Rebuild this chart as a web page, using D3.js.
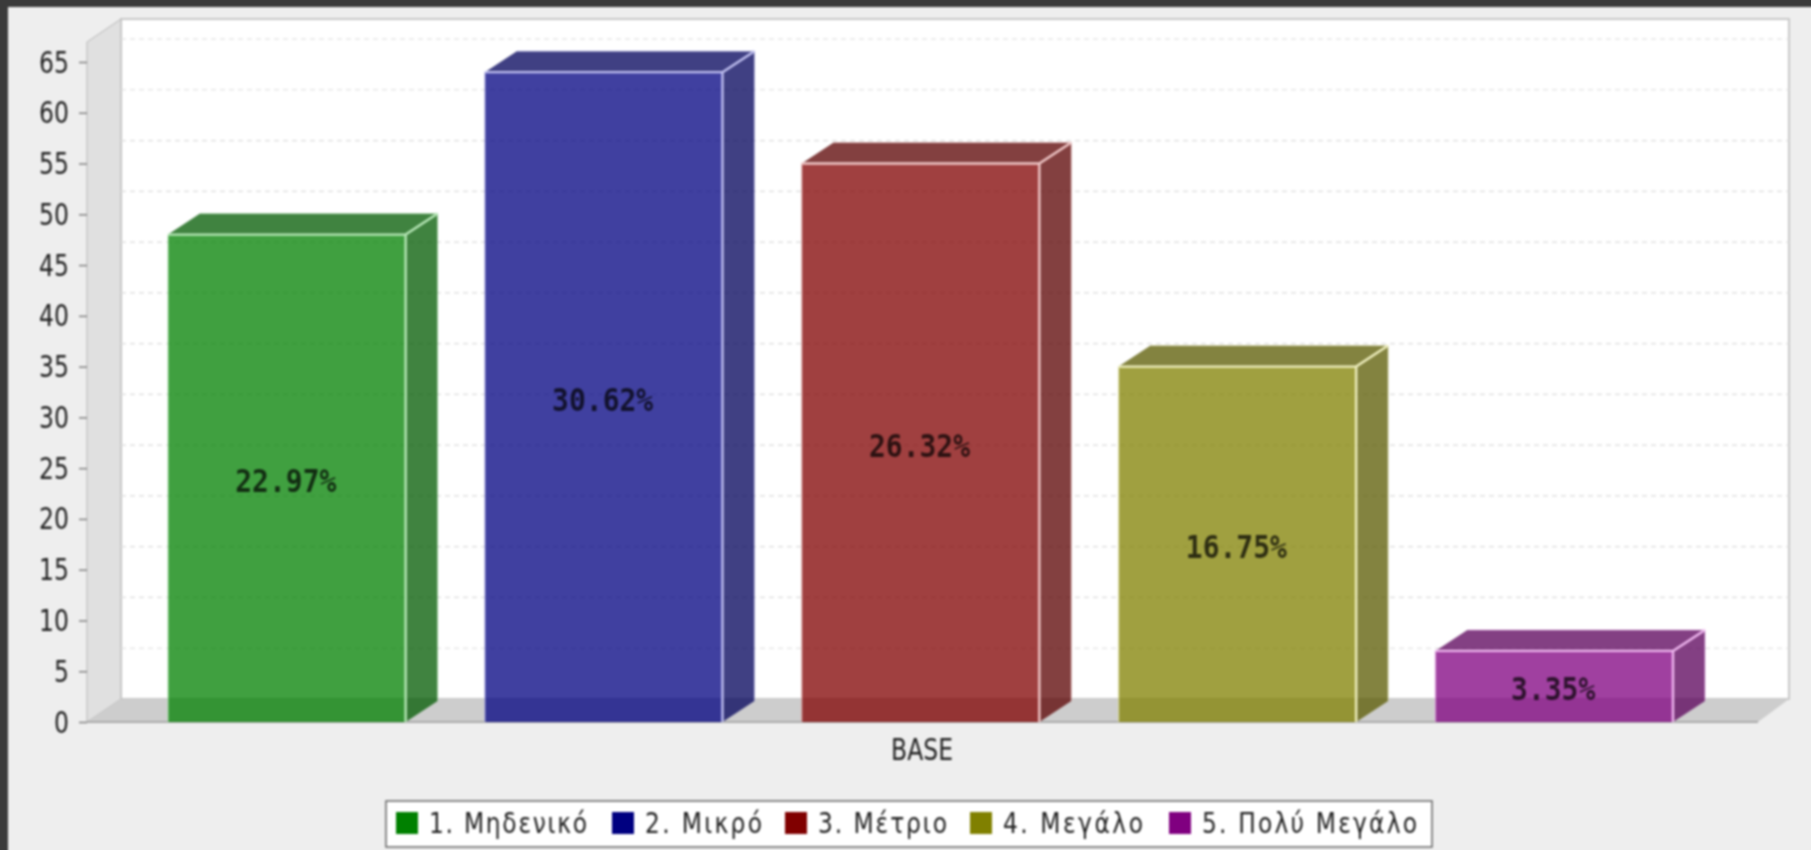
<!DOCTYPE html>
<html><head><meta charset="utf-8">
<script src="https://cdn.jsdelivr.net/npm/d3@7"></script>
<style>
html,body{margin:0;padding:0;background:#eeeeee;overflow:hidden}
svg{display:block;position:absolute;left:-10px;top:-10px;filter:blur(0.9px)}
</style></head><body><svg id="c" width="1831" height="870"></svg>
<script>
const seriesNames=["1. Μηδενικό","2. Μικρό","3. Μέτριο","4. Μεγάλο","5. Πολύ Μεγάλο"];
const seriesValues=[48,64,55,35,7];
const percentLabels=["22.97%","30.62%","26.32%","16.75%","3.35%"];
const seriesColors=["#008000","#000080","#800000","#808000","#800080"];
const sideColors=["#005a00","#00005a","#5a0000","#5a5a00","#5a005a"];
const edgeColors=["#b8e8b8","#c0c0f0","#f0c8c8","#f0f0c0","#f0b8f0"];
const categoryLabel="BASE";
const yTicks=d3.range(0,70,5);

const svg=d3.select("#c").append("g").attr("transform","translate(10,10)");
const M={l:87,r:1758,b:722,dx:34,dy:23,bdx:32,bdy:21};
const y=d3.scaleLinear().domain([0,65]).range([M.b,62]);
const x=d3.scaleBand().domain(seriesNames).range([168,1673]).paddingInner(0.25).paddingOuter(0);
const topV=y.invert(42);

svg.append("rect").attr("x",-10).attr("y",-10).attr("width",1831).attr("height",870).attr("fill","#3a3a3a");
svg.append("rect").attr("x",8).attr("y",7).attr("width",1813).attr("height",853).attr("fill","#eeeeee");
const path=p=>"M"+p.map(d=>d.join(",")).join("L")+"Z";

// back wall
svg.append("rect").attr("x",M.l+M.dx).attr("y",y(topV)-M.dy).attr("width",M.r+31-M.l-M.dx).attr("height",M.b-M.dy-(y(topV)-M.dy))
  .attr("fill","#fff").attr("stroke","#c8c8c8").attr("stroke-width",2);
// left wall
svg.append("path").attr("d",path([[M.l,M.b],[M.l+M.dx,M.b-M.dy],[M.l+M.dx,y(topV)-M.dy],[M.l,y(topV)]]))
  .attr("fill","#e0e0e0").attr("stroke","#b8b8b8").attr("stroke-width",1);
// floor
svg.append("path").attr("d",path([[M.l,M.b],[M.l+M.dx,M.b-M.dy],[M.r+31,M.b-M.dy],[M.r,M.b]]))
  .attr("fill","#cdcdcd");
// grid on back wall
svg.append("g").selectAll("line").data(yTicks.filter(d=>d>0)).join("line")
  .attr("x1",M.l+M.dx).attr("x2",M.r+31)
  .attr("y1",d=>y(d)-M.dy).attr("y2",d=>y(d)-M.dy)
  .attr("stroke","#dcdcdc").attr("stroke-width",1.2).attr("stroke-dasharray","5 4");

// axis lines
svg.append("line").attr("x1",M.l).attr("x2",M.r).attr("y1",M.b).attr("y2",M.b).attr("stroke","#9a9a9a").attr("stroke-width",1.5);
const yAxis=d3.axisLeft(y).tickValues(yTicks).tickSize(8).tickPadding(10);
const ga=svg.append("g").attr("transform",`translate(${M.l},0)`).call(yAxis);
ga.select(".domain").remove();
ga.selectAll(".tick line").attr("stroke","#808080").attr("stroke-width",1.5);
ga.selectAll(".tick text").attr("fill","#222").style("font-family","'DejaVu Sans'").style("font-size","25px")
  .attr("text-anchor","end").attr("x",0).attr("dy",null)
  .attr("transform",function(){return "translate(-18,10) scale(0.94,1.18)"});

// bars
const bars=svg.append("g").selectAll("g").data(seriesNames).join("g");
const A=0.75;
bars.each(function(name,i){
  const g=d3.select(this),x0=x(name),x1=x0+x.bandwidth(),yt=y(seriesValues[i]),yb=M.b;
  g.append("path").attr("d",path([[x1,yb],[x1+M.bdx,yb-M.bdy],[x1+M.bdx,yt-M.bdy],[x1,yt]]))
    .attr("fill",sideColors[i]).attr("fill-opacity",A);
  g.append("path").attr("d",path([[x0,yt],[x0+M.bdx,yt-M.bdy],[x1+M.bdx,yt-M.bdy],[x1,yt]]))
    .attr("fill",sideColors[i]).attr("fill-opacity",A);
  g.append("rect").attr("x",x0).attr("y",yt).attr("width",x.bandwidth()).attr("height",yb-yt)
    .attr("fill",seriesColors[i]).attr("fill-opacity",A);
  g.append("path").attr("d",`M${x0},${yb}V${yt}`)
    .attr("fill","none").attr("stroke",edgeColors[i]).attr("stroke-width",1.5).attr("stroke-opacity",0.5);
  g.append("path").attr("d",`M${x0},${yt}H${x1}V${yb}M${x1},${yt}L${x1+M.bdx},${yt-M.bdy}`)
    .attr("fill","none").attr("stroke",edgeColors[i]).attr("stroke-width",2.4);
  g.append("path").attr("d",`M${x0+M.bdx},${yt-M.bdy}H${x1+M.bdx}V${yb-M.bdy}`)
    .attr("fill","none").attr("stroke",edgeColors[i]).attr("stroke-width",1).attr("stroke-opacity",0.5);
  g.append("text").attr("transform",`translate(${(x0+x1)/2-1},${(yt+yb)/2+14}) scale(1,1.15)`).attr("text-anchor","middle")
    .attr("font-family","'DejaVu Sans Mono'").attr("font-weight","bold").attr("font-size",28)
    .attr("fill","#000").attr("fill-opacity",0.72).text(percentLabels[i]);
});

// category label
svg.append("text").attr("transform",`translate(922,760) scale(0.94,1.18)`).attr("text-anchor","middle")
  .attr("font-family","'DejaVu Sans'").attr("font-size",25).attr("fill","#222").text(categoryLabel);

// legend
svg.append("rect").attr("x",386).attr("y",801).attr("width",1046).attr("height",46).attr("fill","#fff").attr("stroke","#666").attr("stroke-width",1.5);
const legendStarts=[396,612,785,970,1169];
const legendEnds=[587,762,947,1143,1417];
const lx=0.9;
const lg=svg.append("g").selectAll("g").data(seriesNames).join("g");
lg.append("rect").attr("x",(d,i)=>legendStarts[i]).attr("y",812).attr("width",22).attr("height",22).attr("fill",(d,i)=>seriesColors[i]);
lg.append("text").attr("transform",(d,i)=>`translate(${legendStarts[i]+33},833) scale(${lx},1.12)`)
  .attr("font-family","'DejaVu Sans'").attr("font-size",26).attr("fill","#222")
  .attr("textLength",(d,i)=>(legendEnds[i]-legendStarts[i]-33)/lx).attr("lengthAdjust","spacing").text(d=>d);
</script></body></html>
